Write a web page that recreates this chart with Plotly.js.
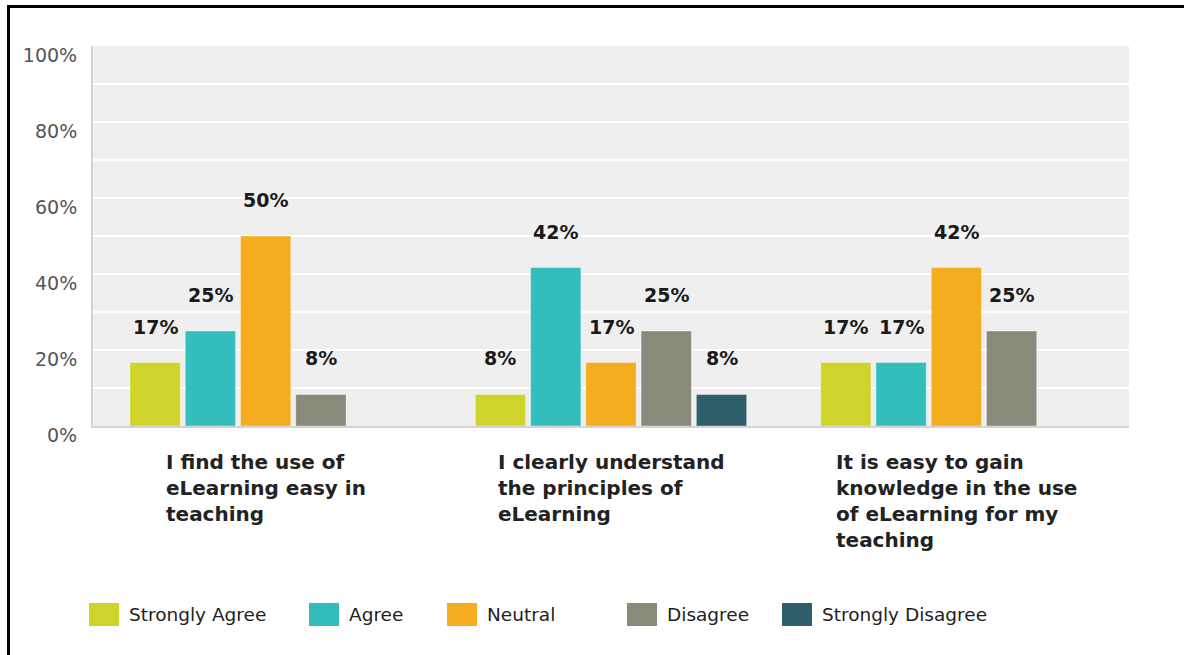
<!DOCTYPE html>
<html>
<head>
<meta charset="utf-8">
<script src="https://cdn.plot.ly/plotly-3.0.1.min.js"></script>
<style>
  html, body { margin: 0; padding: 0; background: #fff; overflow: hidden; }
  #chart { width: 1184px; height: 655px; }
  #frame { position: absolute; left: 7px; top: 5px; width: 1300px; height: 800px;
           border-top: 3px solid #000; border-left: 3px solid #000; pointer-events: none; }
</style>
</head>
<body>
<div id="chart"></div>
<div id="frame"></div>
<script>
// ---- data ----
const categories = [
  "I find the use of<br>eLearning easy in<br>teaching",
  "I clearly understand<br>the principles of<br>eLearning",
  "It is easy to gain<br>knowledge in the use<br>of eLearning for my<br>teaching"
];
const seriesNames = ["Strongly Agree", "Agree", "Neutral", "Disagree", "Strongly Disagree"];
const stronglyAgree    = [16.7, 8.3, 16.7];
const agree            = [25, 41.7, 16.7];
const neutral          = [50, 16.7, 41.7];
const disagree         = [8.3, 25, 25];
const stronglyDisagree = [null, 8.3, null];
const seriesColors = ["#cfd42a", "#33bdbd", "#f5ac1f", "#8a8a7a", "#2f5f6b"];
const yTickVals = [0, 20, 40, 60, 80, 100];
const yTickText = ["0%", "20%", "40%", "60%", "80%", "100%"];

const seriesValues = [stronglyAgree, agree, neutral, disagree, stronglyDisagree];

// layout constants (pixels)
const W = 1184, H = 655;
const M = { l: 93, r: 55, t: 46, b: 229 };
const plotW = W - M.l - M.r, plotH = H - M.t - M.b;
const px2x = p => (p - M.l) / plotW;
const py2y = p => (H - M.b - p) / plotH;

const bargap = 0.2, nSeries = seriesNames.length;
const slot = (1 - bargap) / nSeries;

const xIdx = categories.map((c, i) => i);

const traces = seriesNames.map((name, s) => ({
  type: 'bar',
  name: name,
  x: xIdx,
  y: seriesValues[s],
  marker: { color: seriesColors[s], line: { width: 1, color: 'rgba(255,255,255,0.35)' } },
  showlegend: false,
  hoverinfo: 'skip'
}));

const annotations = [];
// value labels above bars
seriesValues.forEach((vals, s) => {
  vals.forEach((v, i) => {
    if (v === null || v === undefined) return;
    annotations.push({
      x: i - (1 - bargap) / 2 + slot * (s + 0.5),
      y: v, xref: 'x', yref: 'y',
      text: Math.round(v) + '%',
      showarrow: false, xanchor: 'center', yanchor: 'bottom', yshift: 23,
      font: { family: 'DejaVu Sans, sans-serif', size: 19, color: '#1a1a1a', weight: 'bold' }
    });
  });
});
// category labels
categories.forEach((c, i) => {
  annotations.push({
    x: i, y: 0, xref: 'x', yref: 'y',
    text: '<b>' + c + '</b>',
    showarrow: false, xanchor: 'center', yanchor: 'top', align: 'left', yshift: -22,
    font: { family: 'DejaVu Sans, sans-serif', size: 20, color: '#222' }
  });
});

// custom legend
const legendSwatchX = [89, 309, 447, 627, 782];
const shapes = [];
seriesNames.forEach((name, s) => {
  const x0 = legendSwatchX[s];
  shapes.push({
    type: 'rect', xref: 'paper', yref: 'paper',
    x0: px2x(x0), x1: px2x(x0 + 30), y0: py2y(626), y1: py2y(603),
    fillcolor: seriesColors[s], line: { width: 0 }, layer: 'above'
  });
  annotations.push({
    xref: 'paper', yref: 'paper', x: px2x(x0 + 38), y: py2y(614),
    text: name, showarrow: false, xanchor: 'left', yanchor: 'middle',
    font: { family: 'DejaVu Sans, sans-serif', size: 18.5, color: '#222' }
  });
});

const layout = {
  width: W, height: H,
  margin: M,
  paper_bgcolor: '#ffffff',
  plot_bgcolor: '#efefef',
  barmode: 'group',
  bargap: bargap,
  bargroupgap: 0.09,
  showlegend: false,
  xaxis: {
    type: 'linear', range: [-0.5, 2.5], showticklabels: false, showgrid: false,
    zeroline: false, showline: true, linecolor: '#d4d4d4', linewidth: 2, ticks: ''
  },
  yaxis: {
    range: [0, 100], tickmode: 'array', tickvals: yTickVals, ticktext: yTickText,
    showgrid: true, gridcolor: '#ffffff', gridwidth: 2,
    minor: { dtick: 10, showgrid: true, gridcolor: '#ffffff', gridwidth: 2 },
    zeroline: false, showline: true, linecolor: '#d4d4d4', linewidth: 2, ticks: '',
    ticklabelshift: 9, ticklabelstandoff: 10,
    tickfont: { family: 'DejaVu Sans, sans-serif', size: 19, color: '#555' }
  },
  annotations: annotations,
  shapes: shapes
};

Plotly.newPlot('chart', traces, layout, { displayModeBar: false, staticPlot: true });
</script>
</body>
</html>
